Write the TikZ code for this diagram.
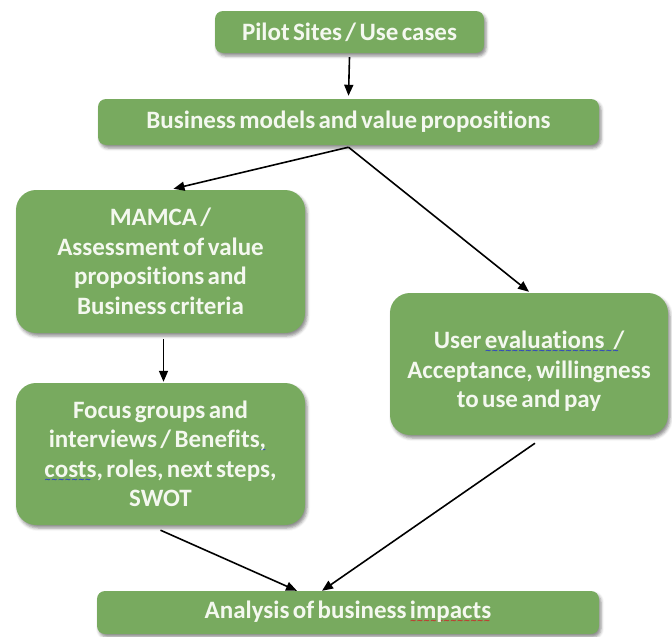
\documentclass[tikz,border=0pt]{standalone}
\usepackage{fontspec}
\setmainfont{Carlito}[Ligatures=NoCommon, WordSpace=0.6]
\newfontfamily\wavefont{DejaVu Sans}
\usetikzlibrary{arrows.meta,shadows.blur}

\definecolor{boxgreen}{HTML}{78AA5F}
\definecolor{boxtext}{HTML}{F4F8EF}
\definecolor{spellblue}{HTML}{2B3FC8}
\definecolor{spellred}{HTML}{C8302B}

% wavy proofing underline: #1 colour, #2 underlined text
\newcommand\proofwave[2]{%
  \leavevmode
  \setbox0\hbox{#2}%
  \rlap{\raisebox{-5pt}{\hbox to \wd0{\color{#1}\leaders\hbox{\fontsize{8}{8}\selectfont\bfseries\wavefont ∼}\hfill}}}%
  \box0}

\tikzset{
  stage/.style={
    draw=none, fill=boxgreen, text=boxtext, inner sep=0pt, align=center,
    font=\fontsize{25}{29.5}\selectfont\bfseries,
    blur shadow={shadow xshift=2pt, shadow yshift=-3pt, shadow blur radius=3pt, shadow opacity=45}
  },
  flatbox/.style={stage, rounded corners=8pt},
  tallbox/.style={stage, rounded corners=20pt},
  flow/.style={-{Triangle[length=11pt,width=9pt]}, line width=1.6pt, black}
}

\begin{document}
\begin{tikzpicture}[x=1pt,y=-1pt]
  \useasboundingbox (0,0) rectangle (672,637);

  \node[flatbox, minimum width=269pt, minimum height=42pt] (pilot) at (349.5,32) {Pilot Sites / Use cases};
  \node[flatbox, minimum width=501pt, minimum height=46pt] (models) at (348.5,122) {Business models and value propositions};
  \node[tallbox, minimum width=289pt, minimum height=143pt] (mamca) at (160.5,261.5)
    {MAMCA /\\Assessment of value\\propositions and\\Business criteria};
  \node[tallbox, minimum width=289pt, minimum height=142pt] (focus) at (160.5,454)
    {Focus groups and\\interviews / Benefits\proofwave{spellblue}{,\kern6pt}\\\proofwave{spellblue}{costs}, roles, next steps,\\SWOT};
  \node[tallbox, minimum width=278pt, minimum height=142pt] (user) at (529,364)
    {\rule{0pt}{32pt}User \proofwave{spellblue}{evaluations\kern9pt/}\\Acceptance, willingness\\to use and pay};
  \node[flatbox, minimum width=502pt, minimum height=43pt] (impact) at (348,612.5) {Analysis of business \proofwave{spellred}{impacts}};

  \draw[flow] ([yshift=-4pt]pilot.south) -- ([yshift=3pt]models.north);
  \draw[flow] ([yshift=-2pt]models.south) -- ([xshift=13pt,yshift=1pt]mamca.north);
  \draw[flow] ([yshift=-2pt]models.south) -- ([yshift=1pt]user.north);
  \draw[flow] ([xshift=3pt,yshift=-6pt]mamca.south) -- ([xshift=3pt,yshift=1pt]focus.north);
  \draw[flow] ([yshift=-5pt]focus.south) -- ([xshift=-51pt]impact.north);
  \draw[flow] ([xshift=6pt,yshift=-8pt]user.south) -- ([xshift=-26pt]impact.north);
\end{tikzpicture}
\end{document}
